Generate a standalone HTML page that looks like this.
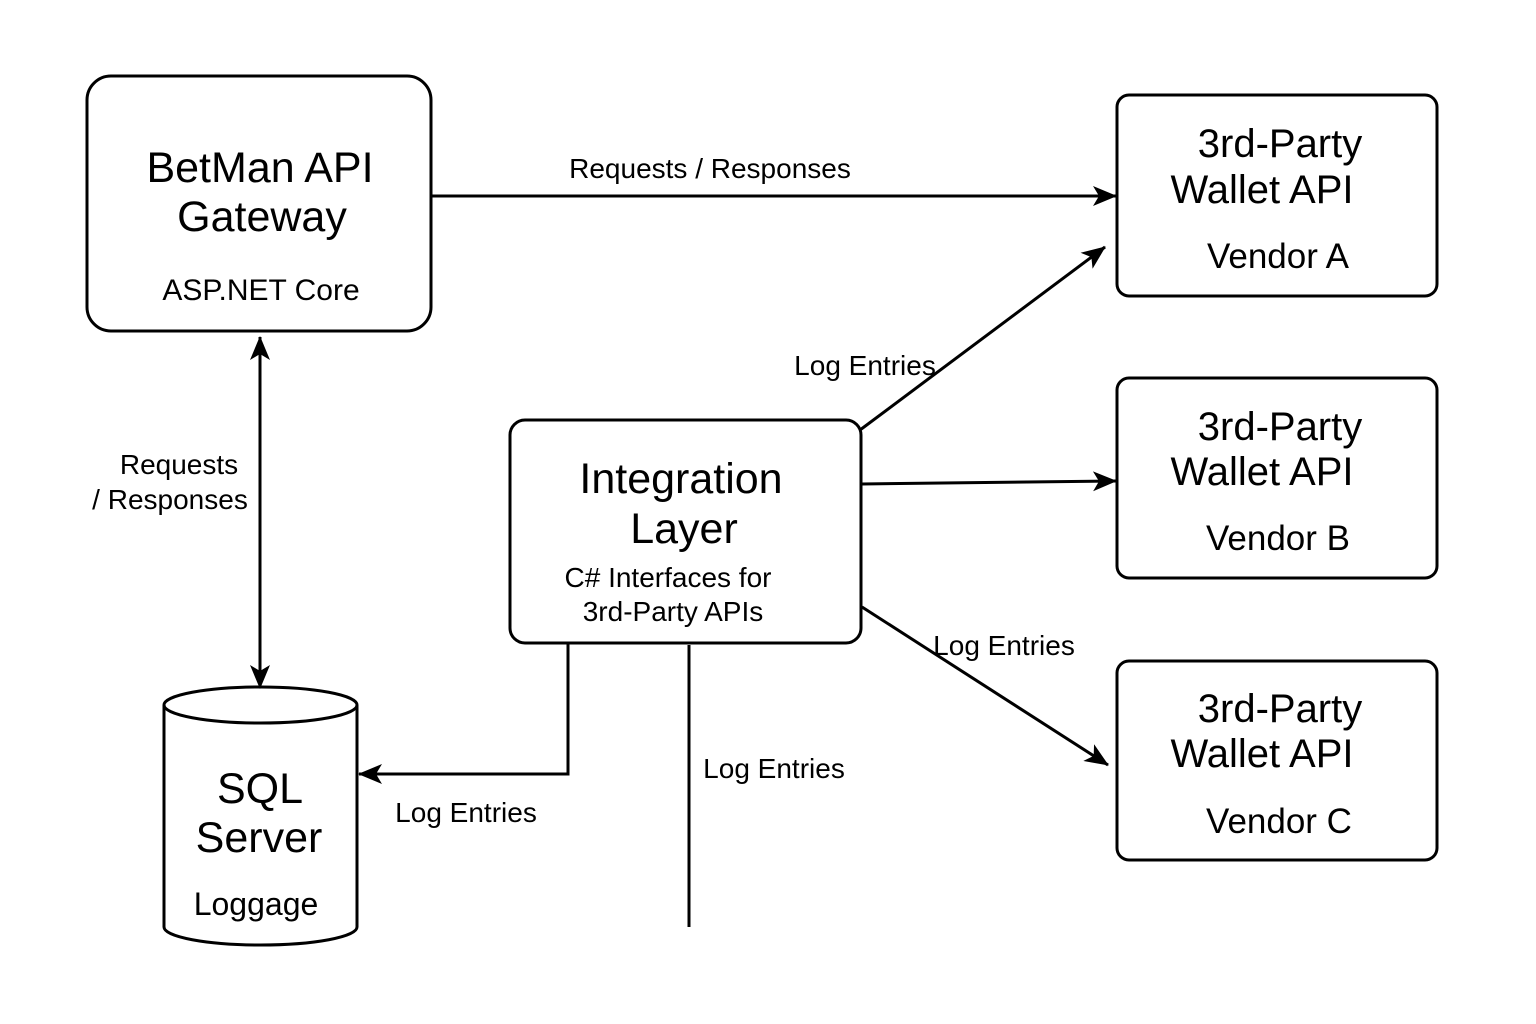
<!DOCTYPE html>
<html><head><meta charset="utf-8"><style>
html,body{margin:0;padding:0;background:#fff;}
svg{display:block;}
text{font-family:"Liberation Sans",sans-serif;fill:#000;}
</style></head><body>
<svg width="1536" height="1024" viewBox="0 0 1536 1024" xmlns="http://www.w3.org/2000/svg">
<defs>
<marker id="a" viewBox="0 0 24 20" refX="23" refY="10" markerWidth="24" markerHeight="20" markerUnits="userSpaceOnUse" orient="auto-start-reverse">
<path d="M0,0 L24,10 L0,20 L6,10 Z" fill="#000"/>
</marker>
</defs>
<g fill="none" stroke="#000" stroke-width="3">
<rect x="87" y="76" width="344" height="255" rx="24"/>
<rect x="1117" y="95" width="320" height="201" rx="12"/>
<rect x="1117" y="378" width="320" height="200" rx="12"/>
<rect x="1117" y="661" width="320" height="199" rx="12"/>
<rect x="510" y="420" width="351" height="223" rx="15"/>
<path d="M164,705 L164,927 A96.5,18 0 0 0 357,927 L357,705"/>
<ellipse cx="260.5" cy="705" rx="96.5" ry="18"/>
<line x1="431" y1="196" x2="1116" y2="196" marker-end="url(#a)"/>
<line x1="260" y1="337" x2="260" y2="688" marker-start="url(#a)" marker-end="url(#a)"/>
<line x1="860" y1="430" x2="1105" y2="247" marker-end="url(#a)"/>
<line x1="862" y1="484" x2="1116" y2="481" marker-end="url(#a)"/>
<line x1="862" y1="607" x2="1108" y2="765" marker-end="url(#a)"/>
<polyline points="568,643 568,774 359,774" marker-end="url(#a)"/>
<line x1="689" y1="645" x2="689" y2="927"/>
</g>
<g text-anchor="middle">
<text x="260" y="182" font-size="43">BetMan API</text>
<text x="262" y="231" font-size="43">Gateway</text>
<text x="261" y="300" font-size="30">ASP.NET Core</text>
<g font-size="40">
<text x="1280" y="157">3rd-Party</text><text x="1262" y="203">Wallet API</text>
<text x="1280" y="440">3rd-Party</text><text x="1262" y="485">Wallet API</text>
<text x="1280" y="722">3rd-Party</text><text x="1262" y="767">Wallet API</text>
</g>
<g font-size="35">
<text x="1278" y="268">Vendor A</text>
<text x="1278" y="550">Vendor B</text>
<text x="1279" y="833">Vendor C</text>
</g>
<text x="681" y="493" font-size="43">Integration</text>
<text x="684" y="543" font-size="43">Layer</text>
<text x="668" y="587" font-size="28">C# Interfaces for</text>
<text x="673" y="621" font-size="28">3rd-Party APIs</text>
<text x="260" y="803" font-size="43">SQL</text>
<text x="259" y="852" font-size="43">Server</text>
<text x="256" y="915" font-size="32">Loggage</text>
<g font-size="28">
<text x="710" y="178">Requests / Responses</text>
<text x="179" y="474">Requests</text>
<text x="170" y="509">/ Responses</text>
<text x="865" y="375">Log Entries</text>
<text x="1004" y="655">Log Entries</text>
<text x="466" y="822">Log Entries</text>
<text x="774" y="778">Log Entries</text>
</g>
</g>
</svg>
</body></html>
